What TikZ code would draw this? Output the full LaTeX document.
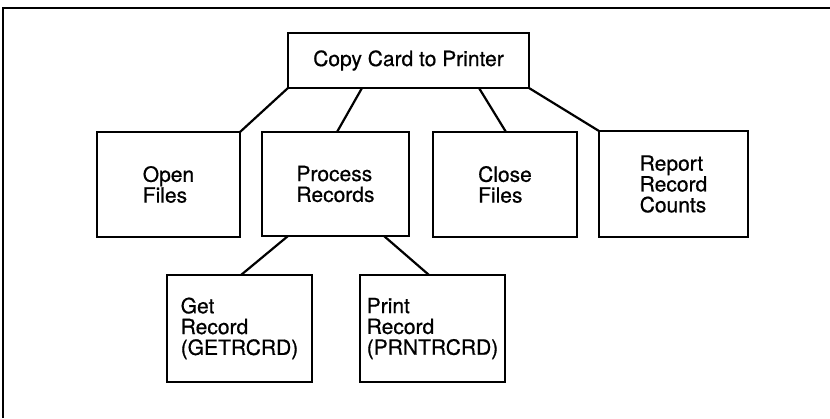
\documentclass[tikz,border=0pt]{standalone}
\usepackage{fontspec}
\setmainfont{TeX Gyre Heros}[FakeBold=0.6]
\begin{document}
\begin{tikzpicture}[x=1pt, y=-1pt,
  every node/.style={font=\fontsize{21}{20.8}\selectfont},
  box/.style={draw, line width=2pt, inner sep=0pt, outer sep=0pt, align=left},
  link/.style={line width=2.2pt},
  frameline/.style={line width=2pt}]
  \useasboundingbox (0,0) rectangle (830,418);

  % open frame: top and left edges only
  \draw[frameline] (3,418) -- (3,8) -- (830,8);

  % root
  \node[box, minimum width=241pt, minimum height=55pt] (top) at (408.5,60.5) {Copy Card to Printer};

  % second level
  \node[box, minimum width=143pt, minimum height=105pt] (open)   at (168.5,184.5) {Open\\Files};
  \node[box, minimum width=147pt, minimum height=104pt] (proc)   at (335.5,184)   {Process\\Records};
  \node[box, minimum width=144pt, minimum height=105pt] (close)  at (505,184.5)   {Close\\Files};
  \node[box, minimum width=149pt, minimum height=106pt] (report) at (673.5,184)   {Report\\Record\\Counts};

  % third level
  \node[box, minimum width=145pt, minimum height=107pt] (get)   at (239.5,328.5) {Get\\Record\\(GETRCRD)};
  \node[box, minimum width=145pt, minimum height=107pt] (print) at (432.5,328.5) {Print\\Record\\(PRNTRCRD)};

  % connectors
  \draw[link] (top.south west) -- (open.north east);
  \draw[link] ([xshift=74pt]top.south west) -- ([xshift=75pt]proc.north west);
  \draw[link] ([xshift=191pt]top.south west) -- ([xshift=73pt]close.north west);
  \draw[link] (top.south east) -- (report.north west);
  \draw[link] ([xshift=26pt]proc.south west) -- ([xshift=74pt]get.north west);
  \draw[link] ([xshift=122pt]proc.south west) -- ([xshift=69pt]print.north west);
\end{tikzpicture}
\end{document}
